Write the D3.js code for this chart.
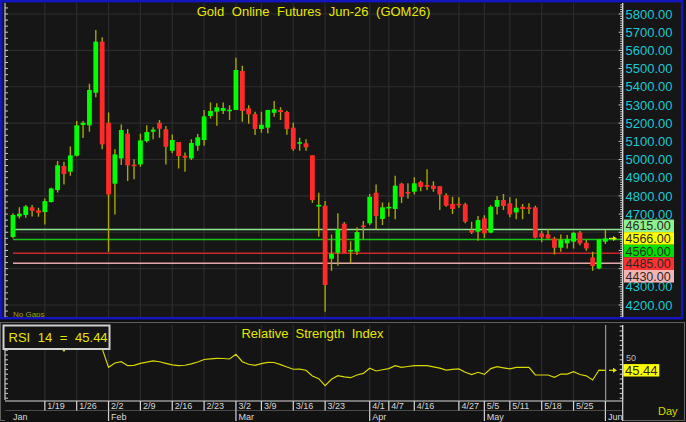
<!DOCTYPE html>
<html>
<head>
<meta charset="utf-8">
<script src="https://cdn.jsdelivr.net/npm/d3@7"></script>
<style>
  body { margin: 0; background: #141414; }
  svg { display: block; }
  text { font-family: Arial, "Liberation Sans", sans-serif; }
</style>
</head>
<body>
<svg id="chart" width="686" height="422"></svg>
<script>
/***********************************************************************/
// Data

var opens  = [4574,4687,4695,4737,4720,4711,4766,4832,4964,4933,5021,5190,5188,5367,5648,5202,4867,5006,5142,4971,
              4973,5101,5153,5202,5166,5048,5096,5021,5006,5076,5107,5239,5263,5267,5267,5272,5487,5281,5250,5168,
              5175,5257,5272,5261,5175,5087,5089,5023,4744,4746,4454,4487,4647,4495,4493,4636,4649,4817,4673,4734,
              4728,4867,4820,4823,4876,4860,4856,4853,4804,4755,4755,4753,4612,4603,4676,4598,4740,4777,4759,4709,
              4740,4737,4737,4594,4588,4566,4515,4539,4548,4599,4542,4462,4401,4548];
var highs  = [4705,4737,4750,4750,4735,4786,4845,4992,4988,5072,5212,5212,5417,5712,5672,5259,5057,5193,5168,5001,
              5142,5188,5177,5217,5184,5138,5096,5038,5111,5140,5272,5314,5309,5314,5298,5560,5516,5298,5263,5263,
              5272,5322,5287,5268,5202,5120,5111,5023,4817,4772,4588,4704,4656,4551,4627,4662,4810,4863,4764,4764,
              4911,4872,4869,4902,4883,4946,4880,4853,4814,4795,4792,4762,4658,4689,4694,4748,4799,4810,4792,4786,
              4755,4759,4746,4607,4616,4575,4588,4585,4603,4607,4557,4493,4561,4612];
var lows   = [4567,4676,4680,4687,4685,4643,4764,4819,4863,4911,5017,5118,5153,5342,5057,4493,4698,4970,4882,4891,
              4960,5094,5112,5120,4973,5034,4951,4933,4997,5048,5076,5226,5186,5250,5217,5272,5208,5197,5135,5147,
              5144,5235,5217,5136,5048,5048,5048,4762,4575,4163,4388,4416,4487,4429,4475,4563,4640,4616,4640,4685,
              4672,4761,4786,4808,4826,4832,4823,4722,4740,4700,4735,4649,4590,4553,4568,4594,4698,4722,4682,4672,
              4672,4700,4566,4545,4561,4478,4493,4511,4511,4529,4498,4388,4396,4535];
var closes = [4695,4702,4742,4718,4707,4771,4841,4968,4920,5023,5188,5202,5382,5648,5083,4808,5028,5162,4968,4964,
              5105,5151,5164,5169,5070,5107,5019,5010,5091,5122,5237,5267,5287,5283,5272,5492,5267,5248,5168,5191,
              5272,5276,5261,5168,5057,5095,5067,4777,4748,4310,4482,4616,4487,4502,4601,4629,4795,4689,4737,4737,
              4856,4794,4814,4869,4849,4850,4838,4808,4746,4728,4750,4658,4598,4667,4594,4740,4777,4744,4698,4735,
              4728,4728,4570,4572,4566,4515,4557,4561,4597,4539,4511,4414,4561,4566];

var rsiValues = [68,66,67,64,62,65,68,62,57.5,63,70,71,76,80,59,47.3,50,50.8,48.3,48.5,
                 49.8,50.5,51.3,50.8,49.8,48.8,48.3,48.6,49.5,50.6,52.2,52.6,52.9,52.8,52.5,55.4,50.8,49.2,48.5,49.6,
                 50.4,50.3,49,47.5,46.1,46.2,45.5,41.9,40.2,35.8,39.8,42.1,41.3,40.8,42.5,43.5,46.7,45,45.8,46.5,
                 48.3,47.3,47.8,48.3,48.3,48.3,47.6,46.8,45.6,46,46.3,44.2,42.8,44.2,42.9,46.5,47.7,47,46.3,47.3,
                 47.3,47.3,42.5,42.5,42.5,41,43.1,43.1,44.6,42.8,42,39.4,45.6,45.44];

var priceTicks  = d3.range(4200, 5801, 100);
var weekLabels  = ['1/19','1/26','2/2','2/9','2/16','2/23','3/2','3/9','3/16','3/23','4/1','4/7','4/16','4/27','5/5','5/11','5/18','5/25'];
var weekIndex   = [5,10,15,20,25,30,35,39,44,49,56,59,63,70,74,78,83,88];
var monthLabels = ['Jan','Feb','Mar','Apr','May','Jun'];
var monthIndex  = [0,15,35,56,74,93];

var levelValues = [4615, 4566, 4560, 4485, 4430];
var lastPrice = 4566;
var lastRsi = 45.44;

var chartTitle = 'Gold Online Futures Jun-26 (GOM26)';
var rsiTitle = 'Relative Strength Index';

/***********************************************************************/
// Styles

var levelLine = ['#8fe88f', null, '#18c018', '#c82828', '#e4a8a8'];
var levelFill = ['#8ef08e', '#ffff00', '#00e000', '#ff3030', '#f4b4b4'];
var upColor = '#00ff00', downColor = '#ff2a2a', wickColor = '#a8a800';
var gridColor = '#2c2c2c', axisText = '#18c8d4', yellow = '#e6e600';

var plot = { left: 5, right: 622.7, top: 3, bottom: 318 };
var rsiPanel = { top: 325, bottom: 400 };

var svg = d3.select('#chart');

var x = d3.scaleLinear().domain([0, 93]).range([13, 605.4]);
var y = d3.scaleLinear().domain([4200, 5800]).range([305, 14]);
var yr = d3.scaleLinear().domain([0, 100]).range([443, 283]);

/***********************************************************************/
// Backgrounds

svg.append('rect').attr('x', 0).attr('y', 0).attr('width', 686).attr('height', 422).attr('fill', '#101010');
svg.append('rect').attr('x', 1).attr('y', 1).attr('width', 682).attr('height', 317).attr('fill', '#161616');
svg.append('rect').attr('x', 0.5).attr('y', 322.5).attr('width', 684).attr('height', 98)
  .attr('fill', '#141414').attr('stroke', '#606060');

var defs = svg.append('defs');
defs.append('clipPath').attr('id', 'clipMain').append('rect')
  .attr('x', plot.left).attr('y', plot.top).attr('width', plot.right - plot.left).attr('height', plot.bottom - plot.top);
defs.append('clipPath').attr('id', 'clipRsi').append('rect')
  .attr('x', plot.left).attr('y', rsiPanel.top).attr('width', plot.right - plot.left).attr('height', rsiPanel.bottom - rsiPanel.top);

/***********************************************************************/
// Grid

var grid = svg.append('g').attr('stroke', gridColor).attr('stroke-width', 1.2);
priceTicks.filter(p => p % 200 === 0).forEach(p => {
  grid.append('line').attr('x1', plot.left).attr('x2', plot.right).attr('y1', y(p)).attr('y2', y(p));
});
weekIndex.forEach(i => {
  grid.append('line').attr('x1', x(i)).attr('x2', x(i)).attr('y1', plot.top).attr('y2', plot.bottom);
  grid.append('line').attr('x1', x(i)).attr('x2', x(i)).attr('y1', rsiPanel.top).attr('y2', rsiPanel.bottom);
});

/***********************************************************************/
// Level lines

levelValues.forEach((v, k) => {
  if (!levelLine[k]) return;
  svg.append('line').attr('x1', 13).attr('x2', plot.right).attr('y1', y(v)).attr('y2', y(v))
    .attr('stroke', levelLine[k]).attr('stroke-width', 1.5);
});

/***********************************************************************/
// Candles

var candles = svg.append('g').attr('clip-path', 'url(#clipMain)');
opens.forEach((o, i) => {
  candles.append('line').attr('x1', x(i)).attr('x2', x(i)).attr('y1', y(highs[i])).attr('y2', y(lows[i]))
    .attr('stroke', wickColor).attr('stroke-width', 1.4);
});
opens.forEach((o, i) => {
  var c = closes[i];
  var top = y(Math.max(o, c)), bot = y(Math.min(o, c));
  var h = Math.max(bot - top, 1.6);
  candles.append('rect').attr('x', x(i) - 2.4).attr('width', 4.8)
    .attr('y', (top + bot) / 2 - h / 2).attr('height', h)
    .attr('fill', c >= o ? upColor : downColor);
});

// last price arrow
function arrow(g, xx, yy){
  g.append('line').attr('x1', xx - 4).attr('x2', xx + 2).attr('y1', yy).attr('y2', yy).attr('stroke', yellow).attr('stroke-width', 1.2);
  g.append('path').attr('d', `M${xx},${yy - 2.5}L${xx + 4},${yy}L${xx},${yy + 2.5}Z`).attr('fill', yellow);
}
arrow(svg, 613, y(lastPrice));

/***********************************************************************/
// Price axis

var axis = svg.append('g');
axis.append('line').attr('x1', plot.right).attr('x2', plot.right).attr('y1', plot.top).attr('y2', plot.bottom)
  .attr('stroke', '#e0e0e0').attr('stroke-width', 1.3);
axis.append('line').attr('x1', plot.left).attr('x2', plot.left).attr('y1', plot.top).attr('y2', plot.bottom)
  .attr('stroke', '#c8c8c8').attr('stroke-width', 1.2);
d3.range(4137.5, 5860, 12.5).forEach(p => {
  var major = p % 100 === 0;
  axis.append('line').attr('x1', plot.right - (major ? 4 : 2.5)).attr('x2', plot.right).attr('y1', y(p)).attr('y2', y(p))
    .attr('stroke', '#d0d0d0').attr('stroke-width', 1);
});
d3.range(4133.3, 5860, 100 / 3).forEach(p => {
  axis.append('line').attr('x1', plot.left).attr('x2', plot.left + 3).attr('y1', y(p)).attr('y2', y(p))
    .attr('stroke', '#c8c8c8').attr('stroke-width', 1);
});

// level labels, stacked around the last price
var boxH = 12.6;
var order = levelValues.map((v, k) => k).sort((a, b) => levelValues[b] - levelValues[a]);
var anchor = order.indexOf(levelValues.indexOf(lastPrice));
var boxTop = y(lastPrice) - anchor * boxH - boxH / 2;
var boxBottom = boxTop + order.length * boxH;

// tick labels hidden behind the level boxes are left out
priceTicks.filter(p => y(p) + 4 < boxTop || y(p) - 4 > boxBottom).forEach(p => {
  axis.append('text').attr('x', 625.5).attr('y', y(p)).attr('dy', '0.36em')
    .attr('font-size', 13).attr('fill', axisText).text(p.toFixed(2));
});

order.forEach((k, pos) => {
  var cy = y(lastPrice) + (pos - anchor) * boxH;
  axis.append('rect').attr('x', 624).attr('y', cy - boxH / 2).attr('width', 50).attr('height', boxH)
    .attr('fill', levelFill[k]);
  axis.append('text').attr('x', 625.5).attr('y', cy).attr('dy', '0.36em')
    .attr('font-size', 12.5).attr('fill', '#2a2a2a').text(levelValues[k].toFixed(2));
});

/***********************************************************************/
// Titles

svg.append('text').attr('x', 313.5).attr('y', 16).attr('text-anchor', 'middle')
  .attr('font-size', 13).attr('word-spacing', 4).attr('fill', yellow).text(chartTitle);
svg.append('text').attr('x', 13).attr('y', 317).attr('font-size', 8).attr('fill', '#a0a000').text('No Gaps');

// frame
svg.append('rect').attr('x', 1.2).attr('y', 1.2).attr('width', 681).attr('height', 317)
  .attr('fill', 'none').attr('stroke', '#1414c0').attr('stroke-width', 2.4);

/***********************************************************************/
// RSI panel

svg.append('line').attr('x1', x(93) + 0.3).attr('x2', x(93) + 0.3).attr('y1', rsiPanel.top).attr('y2', rsiPanel.bottom)
  .attr('stroke', '#b0b0b0').attr('stroke-width', 1);

svg.append('path').datum(rsiValues).attr('clip-path', 'url(#clipRsi)')
  .attr('d', d3.line().x((d, i) => x(i)).y(d => yr(d)))
  .attr('fill', 'none').attr('stroke', '#d8d800').attr('stroke-width', 1.2);

arrow(svg, 613, yr(lastRsi));

var raxis = svg.append('g');
raxis.append('line').attr('x1', plot.right).attr('x2', plot.right).attr('y1', rsiPanel.top).attr('y2', rsiPanel.bottom)
  .attr('stroke', '#e0e0e0').attr('stroke-width', 1.3);
raxis.append('line').attr('x1', plot.left).attr('x2', plot.left).attr('y1', rsiPanel.top).attr('y2', rsiPanel.bottom)
  .attr('stroke', '#c8c8c8').attr('stroke-width', 1.2);
d3.range(28, 74, 3).forEach(v => {
  raxis.append('line').attr('x1', plot.right - 3).attr('x2', plot.right).attr('y1', yr(v)).attr('y2', yr(v))
    .attr('stroke', '#d0d0d0');
  raxis.append('line').attr('x1', plot.left).attr('x2', plot.left + 3).attr('y1', yr(v)).attr('y2', yr(v))
    .attr('stroke', '#c8c8c8');
});
raxis.append('text').attr('x', 626).attr('y', yr(lastRsi) - 9.5).attr('font-size', 9)
  .attr('fill', '#b8b8b8').text('50');
raxis.append('rect').attr('x', 623.3).attr('y', yr(lastRsi) - 6.2).attr('width', 36).attr('height', 12.4)
  .attr('fill', '#ffff00');
raxis.append('text').attr('x', 625).attr('y', yr(lastRsi)).attr('dy', '0.36em').attr('font-size', 13)
  .attr('fill', '#2a2a2a').text(lastRsi.toFixed(2));

svg.append('text').attr('x', 312.5).attr('y', 337.5).attr('text-anchor', 'middle')
  .attr('font-size', 13).attr('word-spacing', 3.5).attr('fill', yellow).text(rsiTitle);

// value box
svg.append('rect').attr('x', 3.5).attr('y', 325.5).attr('width', 106).attr('height', 23.5)
  .attr('fill', '#141414').attr('stroke', '#d0d0d0').attr('stroke-width', 2);
svg.append('text').attr('x', 8.5).attr('y', 342.3).attr('font-size', 13).attr('word-spacing', 4)
  .attr('fill', yellow).text('RSI 14 = ' + lastRsi.toFixed(2));

/***********************************************************************/
// Date axis

var dates = svg.append('g');
dates.append('rect').attr('x', plot.left).attr('y', 401).attr('width', plot.right - plot.left).attr('height', 20)
  .attr('fill', '#121212');
dates.append('line').attr('x1', plot.left).attr('x2', plot.right).attr('y1', 401).attr('y2', 401)
  .attr('stroke', '#d8d8d8').attr('stroke-width', 1.2);
dates.append('line').attr('x1', plot.left).attr('x2', plot.right).attr('y1', 410.5).attr('y2', 410.5)
  .attr('stroke', '#4a4a4a').attr('stroke-width', 1);
dates.append('line').attr('x1', plot.right).attr('x2', plot.right).attr('y1', 400).attr('y2', 421)
  .attr('stroke', '#d8d8d8').attr('stroke-width', 1.2);
weekIndex.forEach((i, k) => {
  dates.append('line').attr('x1', x(i)).attr('x2', x(i)).attr('y1', 401).attr('y2', 410.5)
    .attr('stroke', '#d8d8d8').attr('stroke-width', 1.2);
  dates.append('text').attr('x', x(i) + 2.5).attr('y', 409).attr('font-size', 9).attr('fill', '#d8d8d8')
    .text(weekLabels[k]);
});
dates.append('line').attr('x1', x(93)).attr('x2', x(93)).attr('y1', 401).attr('y2', 410.5)
  .attr('stroke', '#d8d8d8').attr('stroke-width', 1.2);
monthIndex.forEach((i, k) => {
  if (k > 0) {
    dates.append('line').attr('x1', x(i)).attr('x2', x(i)).attr('y1', 410.5).attr('y2', 421)
      .attr('stroke', '#d0d0d0').attr('stroke-width', 1.2);
  }
  dates.append('text').attr('x', k > 0 ? x(i) + 2.5 : x(i)).attr('y', 419.5).attr('font-size', 9).attr('fill', '#d8d8d8')
    .text(monthLabels[k]);
});
svg.append('text').attr('x', 658).attr('y', 415).attr('font-size', 11).attr('fill', '#d8d800').text('Day');
</script>
</body>
</html>
